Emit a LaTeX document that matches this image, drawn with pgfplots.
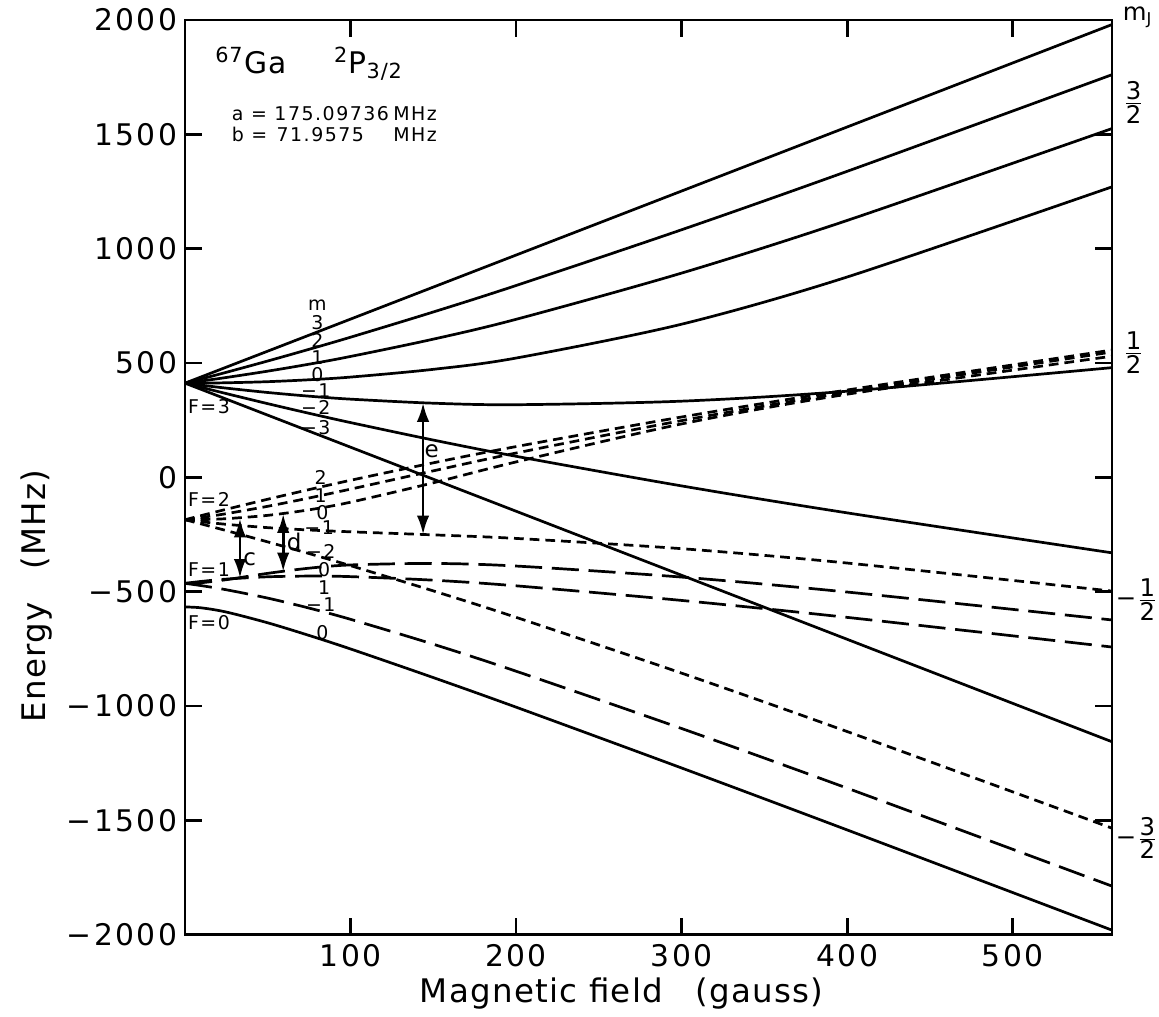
\documentclass[border=0pt]{standalone}
\usepackage{fontspec}
\setmainfont{DejaVu Sans}
\usepackage{pgfplots}
\pgfplotsset{compat=1.18}
\usetikzlibrary{arrows.meta}

\tikzset{
  lvl/.style={black, line width=1pt},
  f2/.style={lvl, dash pattern=on 3.6pt off 2.2pt},
  f1/.style={lvl, dash pattern=on 10pt off 3.6pt},
  lab/.style={font=\fontsize{7}{8}\selectfont\addfontfeature{LetterSpace=8}, inner sep=0pt},
  gap/.style={{Latex[length=7pt,width=4.6pt]}-{Latex[length=7pt,width=4.6pt]}, line width=1pt},
}
\newcommand{\fr}[2]{$\frac{\mbox{#1}}{\mbox{#2}}$}

\begin{document}
\begin{tikzpicture}
\begin{axis}[
  width=12.04cm, height=11.88cm, scale only axis,
  xmin=0, xmax=560, ymin=-2000, ymax=2000,
  xtick={100,200,300,400,500},
  xticklabels={100,200,300,400,500},
  ytick={-2000,-1500,...,2000},
  yticklabels={−2000,−1500,−1000,−500,0,500,1000,1500,2000},
  tick align=inside, major tick length=0.22cm,
  axis line style={line width=1pt},
  tick style={line width=1pt, black},
  ticklabel style={font=\fontsize{11}{12}\selectfont\addfontfeature{LetterSpace=8}, inner sep=1pt},
  xticklabel style={yshift=-0.09cm},
  yticklabel style={xshift=-0.06cm},
  xlabel={Magnetic field\quad(gauss)},
  ylabel={Energy\quad(MHz)},
  label style={font=\fontsize{12}{13}\selectfont\addfontfeature{LetterSpace=4}},
  xlabel style={at={(axis description cs:0.471,-0.064)}, anchor=center},
  ylabel style={at={(axis description cs:-0.16,0.37)}, anchor=center},
  clip mode=individual,
]
% F=3 (solid)
\addplot[lvl] coordinates {(0,412.0)(100,692.0)(200,972.1)(300,1252.1)(400,1532.2)(560,1980.2)};
\addplot[lvl, smooth] coordinates {(0,412.0)(10,430.8)(25,459.5)(50,508.9)(75,560.1)(100,612.9)(150,723.2)(200,838.9)(300,1082.8)(400,1338.3)(560,1760.9)};
\addplot[lvl, smooth] coordinates {(0,412.0)(10,421.5)(25,436.8)(50,464.5)(75,495.0)(100,528.7)(150,604.4)(200,691.1)(300,893.3)(400,1123.5)(560,1525.3)};
\addplot[lvl, smooth] coordinates {(0,412.0)(10,412.2)(25,413.6)(50,418.4)(75,426.8)(100,438.5)(150,472.4)(200,521.7)(300,669.8)(400,876.2)(560,1270.4)};
\addplot[lvl, smooth] coordinates {(0,412.0)(10,402.9)(25,390.1)(50,371.1)(75,355.0)(100,342.0)(150,324.3)(200,317.7)(300,333.2)(400,376.7)(560,479.8)};
\addplot[lvl, smooth] coordinates {(0,412.0)(10,393.4)(25,366.2)(50,322.2)(75,280.0)(100,239.5)(150,163.1)(200,92.1)(300,-37.4)(400,-155.3)(560,-330.1)};
\addplot[lvl] coordinates {(0,412.0)(100,131.9)(200,-148.1)(300,-428.2)(400,-708.2)(560,-1156.3)};
% F=2 (short dashes)
\addplot[f2, smooth] coordinates {(0,-185.3)(10,-166.8)(25,-139.5)(50,-95.6)(75,-53.4)(100,-12.8)(150,63.6)(200,134.6)(300,264.0)(400,382.0)(560,556.8)};
\addplot[f2, smooth] coordinates {(0,-185.3)(10,-175.4)(25,-158.7)(50,-126.5)(75,-90.2)(100,-51.4)(150,28.5)(200,106.4)(300,248.2)(400,372.1)(560,548.1)};
\addplot[f2, smooth] coordinates {(0,-185.3)(10,-184.6)(25,-180.6)(50,-166.1)(75,-141.9)(100,-108.6)(150,-23.8)(200,67.5)(300,233.7)(400,363.6)(560,529.8)};
\addplot[f2, smooth] coordinates {(0,-185.3)(10,-194.1)(25,-205.4)(50,-219.9)(75,-230.2)(100,-238.1)(150,-251.5)(200,-267.0)(300,-311.9)(400,-374.7)(560,-497.4)};
\addplot[f2, smooth] coordinates {(0,-185.3)(10,-204.1)(25,-232.9)(50,-282.3)(75,-333.4)(100,-386.2)(150,-496.5)(200,-612.2)(300,-856.2)(400,-1111.6)(560,-1534.2)};
% F=1 (long dashes)
\addplot[f1, smooth] coordinates {(0,-463.5)(10,-454.9)(25,-444.9)(50,-434.8)(75,-431.7)(100,-434.1)(150,-449.7)(200,-474.3)(300,-538.2)(400,-612.3)(560,-742.0)};
\addplot[f1, smooth] coordinates {(0,-463.5)(10,-460.5)(25,-447.4)(50,-419.7)(75,-397.1)(100,-383.0)(150,-376.5)(200,-387.8)(300,-436.1)(400,-501.5)(560,-623.6)};
\addplot[f1, smooth] coordinates {(0,-463.5)(10,-473.6)(25,-491.6)(50,-528.1)(75,-571.7)(100,-620.8)(150,-729.7)(200,-847.7)(300,-1098.3)(400,-1359.1)(560,-1787.5)};
% F=0 (solid)
\addplot[lvl, smooth] coordinates {(0,-566.7)(10,-570.7)(25,-589.1)(50,-636.1)(75,-691.4)(100,-750.4)(150,-875.6)(200,-1004.9)(300,-1270.9)(400,-1541.8)(560,-1980.1)};

% transitions
\draw[gap] (axis cs:33.2,-180) -- (axis cs:33.2,-440);
\draw[gap] (axis cs:59.3,-160) -- (axis cs:59.3,-412);
\draw[gap] (axis cs:143.8,326) -- (axis cs:143.8,-250);
\node[lab, font=\fontsize{8.5}{9}\selectfont] at (axis cs:39,-357) {c};
\node[lab, font=\fontsize{8.5}{9}\selectfont] at (axis cs:66,-283) {d};
\node[lab, font=\fontsize{8.5}{9}\selectfont] at (axis cs:149,113) {e};

% title block
\node[anchor=base west, inner sep=0pt, font=\fontsize{11}{12}\selectfont\addfontfeature{LetterSpace=4}]
  at (axis cs:18,1768) {\textsuperscript{67}Ga\hspace{1.6em}\textsuperscript{2}P\textsubscript{3/2}};
\node[lab, anchor=west] at (axis cs:28,1589) {a = 175.09736};
\node[lab, anchor=west] at (axis cs:28,1501) {b =};
\node[lab, anchor=west] at (axis cs:55,1501) {71.9575};
\node[lab, anchor=west] at (axis cs:125.5,1589) {MHz};
\node[lab, anchor=west] at (axis cs:125.5,1501) {MHz};

% F labels and m labels
\node[lab, anchor=west] at (axis cs:1.5,308) {F=3};
\node[lab, anchor=west] at (axis cs:1.5,-98) {F=2};
\node[lab, anchor=west] at (axis cs:1.5,-404) {F=1};
\node[lab, anchor=west] at (axis cs:1.5,-635) {F=0};
\node[lab] at (axis cs:80,754) {m};
\node[lab] at (axis cs:80,678) {3};
\node[lab] at (axis cs:80,599) {2};
\node[lab] at (axis cs:80,525) {1};
\node[lab] at (axis cs:80,451) {0};
\node[lab] at (axis cs:79,381) {−1};
\node[lab] at (axis cs:79,304) {−2};
\node[lab] at (axis cs:79,216) {−3};
\node[lab] at (axis cs:82,-2) {2};
\node[lab] at (axis cs:82,-78) {1};
\node[lab] at (axis cs:83,-153) {0};
\node[lab] at (axis cs:81,-220) {−1};
\node[lab] at (axis cs:82,-326) {−2};
\node[lab] at (axis cs:84,-404) {0};
\node[lab] at (axis cs:84,-483) {1};
\node[lab] at (axis cs:82,-557) {−1};
\node[lab] at (axis cs:83,-681) {0};

% m_J labels at the right
\node[inner sep=0pt, font=\fontsize{9}{10}\selectfont] at (axis cs:575.5,2012) {m\textsubscript{J}};
\node[inner sep=0pt, font=\fontsize{9}{10}\selectfont] at (axis cs:573,1640) {\fr{3}{2}};
\node[inner sep=0pt, font=\fontsize{9}{10}\selectfont] at (axis cs:573,545) {\fr{1}{2}};
\node[inner sep=0pt, anchor=west, font=\fontsize{9}{10}\selectfont] at (axis cs:562,-535) {−\fr{1}{2}};
\node[inner sep=0pt, anchor=west, font=\fontsize{9}{10}\selectfont] at (axis cs:562,-1577) {−\fr{3}{2}};
\end{axis}
\path (current axis.south west) ++(-2.403cm,-1.065cm) coordinate (bl);
\path (current axis.north east) ++(0.610cm,0.260cm) coordinate (tr);
\pgfresetboundingbox
\useasboundingbox (bl) rectangle (tr);
\end{tikzpicture}
\end{document}
